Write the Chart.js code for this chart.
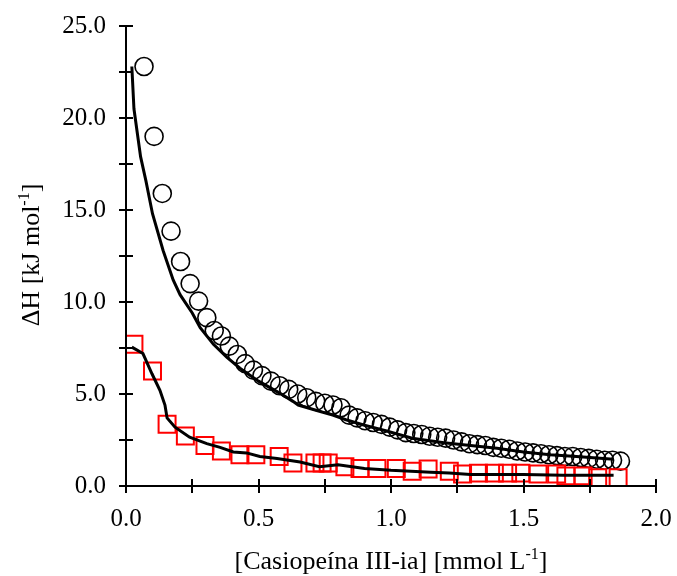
<!DOCTYPE html>
<html>
<head>
<meta charset="utf-8">
<script src="https://cdn.jsdelivr.net/npm/chart.js@4/dist/chart.umd.min.js"></script>
<style>
  html, body { margin: 0; padding: 0; background: #fff; }
  #wrap { width: 677px; height: 576px; position: relative; }
</style>
</head>
<body>
<div id="wrap"><canvas id="myChart"></canvas></div>
<script>
// circles (experimental, upper set)
const circleX = [0.068, 0.106, 0.137, 0.170, 0.206, 0.242, 0.274, 0.305, 0.333, 0.360,
    0.390, 0.420, 0.450, 0.481, 0.513, 0.547, 0.580, 0.614, 0.648, 0.682,
    0.716, 0.750, 0.781, 0.811, 0.842, 0.872, 0.902, 0.933, 0.964, 0.995,
    1.025, 1.056, 1.086, 1.116, 1.146, 1.176, 1.206, 1.236, 1.266, 1.296,
    1.326, 1.356, 1.386, 1.416, 1.446, 1.476, 1.506, 1.536, 1.566, 1.596,
    1.626, 1.656, 1.686, 1.716, 1.746, 1.776, 1.806, 1.836, 1.866];
const circleY = [22.8, 19.0, 15.9, 13.85, 12.2, 11.0, 10.05, 9.15, 8.45, 8.15,
    7.6, 7.15, 6.65, 6.3, 6.0, 5.7, 5.45, 5.25, 5.0, 4.8,
    4.6, 4.5, 4.4, 4.25, 3.85, 3.7, 3.55, 3.45, 3.35, 3.2,
    3.05, 2.9, 2.85, 2.8, 2.7, 2.65, 2.6, 2.5, 2.4, 2.3,
    2.25, 2.2, 2.1, 2.05, 2.0, 1.9, 1.85, 1.8, 1.75, 1.7,
    1.65, 1.6, 1.6, 1.55, 1.5, 1.45, 1.4, 1.4, 1.35];

// squares (experimental, lower set)
const squareX = [0.03, 0.10, 0.155, 0.224, 0.298, 0.36, 0.43, 0.49, 0.578, 0.63,
    0.713, 0.74, 0.763, 0.826, 0.883, 0.947, 1.02, 1.08, 1.14, 1.22,
    1.27, 1.33, 1.39, 1.44, 1.49, 1.555, 1.625, 1.66, 1.725, 1.78, 1.857];
const squareY = [7.7, 6.25, 3.35, 2.72, 2.2, 1.9, 1.7, 1.7, 1.6, 1.25,
    1.25, 1.25, 1.25, 1.05, 0.95, 0.95, 0.95, 0.8, 0.92, 0.8,
    0.65, 0.7, 0.7, 0.7, 0.7, 0.65, 0.65, 0.55, 0.55, 0.45, 0.45];

// fitted curves
const fitTopX = [0.022, 0.03, 0.055, 0.075, 0.10, 0.14, 0.178, 0.204, 0.25, 0.28,
    0.33, 0.38, 0.43, 0.50, 0.58, 0.63, 0.65, 0.72, 0.78, 0.83,
    0.90, 0.98, 1.08, 1.20, 1.30, 1.40, 1.50, 1.60, 1.70, 1.84];
const fitTopY = [22.8, 20.5, 17.9, 16.6, 14.8, 12.8, 11.2, 10.4, 9.4, 8.6,
    7.7, 7.0, 6.4, 5.7, 5.05, 4.6, 4.4, 4.1, 3.85, 3.6,
    3.3, 3.0, 2.6, 2.35, 2.2, 2.05, 1.85, 1.7, 1.6, 1.45];

const fitLowX = [0.022, 0.064, 0.098, 0.128, 0.147, 0.155, 0.185, 0.24, 0.305, 0.355,
    0.405, 0.455, 0.505, 0.57, 0.657, 0.73, 0.80, 0.90, 1.00, 1.15,
    1.22, 1.30, 1.50, 1.65, 1.84];
const fitLowY = [7.55, 7.2, 6.1, 5.2, 4.4, 3.7, 3.2, 2.65, 2.3, 2.1,
    1.85, 1.8, 1.6, 1.5, 1.3, 1.05, 1.15, 0.95, 0.85, 0.75,
    0.7, 0.62, 0.62, 0.58, 0.58];

const xTickLabels = ['0.0', '0.5', '1.0', '1.5', '2.0'];
const yTickLabels = ['0.0', '5.0', '10.0', '15.0', '20.0', '25.0'];

const toPts = (xs, ys) => xs.map((v, i) => ({x: v, y: ys[i]}));
const serif = '"Liberation Serif", "Times New Roman", serif';

// crossing tick marks, axis lines and titles
const axisPlugin = {
    id: 'axisDeco',
    afterDraw(chart) {
        const ctx = chart.ctx;
        const a = chart.chartArea;
        const xs = chart.scales.x, ys = chart.scales.y;
        ctx.save();
        ctx.strokeStyle = '#000';
        ctx.lineWidth = 2;
        ctx.beginPath();
        ctx.moveTo(a.left, a.top); ctx.lineTo(a.left, a.bottom); ctx.lineTo(a.right, a.bottom);
        for (let v = 0; v <= 2.0001; v += 0.25) {
            const px = Math.round(xs.getPixelForValue(v));
            ctx.moveTo(px, a.bottom - 7); ctx.lineTo(px, a.bottom + 7);
        }
        for (let v = 0; v <= 25.0001; v += 2.5) {
            const py = Math.round(ys.getPixelForValue(v));
            ctx.moveTo(a.left - 7, py); ctx.lineTo(a.left + 7, py);
        }
        ctx.stroke();

        ctx.fillStyle = '#000';
        ctx.textBaseline = 'alphabetic';
        const big = '26px ' + serif, small = '16px ' + serif;
        // x title
        const parts = [['[Casiopeína III-ia] [mmol L', big, 0], ['-1', small, -10], [']', big, 0]];
        let w = 0;
        parts.forEach(p => { ctx.font = p[1]; w += ctx.measureText(p[0]).width; });
        let cx = (a.left + a.right) / 2 - w / 2;
        parts.forEach(p => {
            ctx.font = p[1];
            ctx.textAlign = 'left';
            ctx.fillText(p[0], cx, 569 + p[2]);
            cx += ctx.measureText(p[0]).width;
        });
        // y title
        const yparts = [['ΔH [kJ mol', big, 0], ['-1', small, -10], [']', big, 0]];
        w = 0;
        yparts.forEach(p => { ctx.font = p[1]; w += ctx.measureText(p[0]).width; });
        ctx.translate(39, 255);
        ctx.rotate(-Math.PI / 2);
        cx = -w / 2;
        yparts.forEach(p => {
            ctx.font = p[1];
            ctx.textAlign = 'left';
            ctx.fillText(p[0], cx, p[2]);
            cx += ctx.measureText(p[0]).width;
        });
        ctx.restore();
    }
};

new Chart(document.getElementById('myChart'), {
    type: 'scatter',
    data: {
        datasets: [{
            label: 'circles',
            data: toPts(circleX, circleY),
            pointStyle: 'circle',
            pointRadius: 9,
            pointBorderWidth: 1.6,
            pointBorderColor: '#000',
            pointBackgroundColor: 'rgba(0,0,0,0)',
            showLine: false,
            order: 3
        }, {
            label: 'squares',
            data: toPts(squareX, squareY),
            pointStyle: 'rect',
            pointRadius: 12,
            pointBorderWidth: 2,
            pointBorderColor: '#ff0000',
            pointBackgroundColor: 'rgba(0,0,0,0)',
            showLine: false,
            order: 2
        }, {
            label: 'fit1',
            data: toPts(fitTopX, fitTopY),
            showLine: true,
            borderColor: '#000',
            borderWidth: 3,
            pointRadius: 0,
            tension: 0,
            order: 1
        }, {
            label: 'fit2',
            data: toPts(fitLowX, fitLowY),
            showLine: true,
            borderColor: '#000',
            borderWidth: 3,
            pointRadius: 0,
            tension: 0,
            order: 0
        }]
    },
    options: {
        responsive: true,
        maintainAspectRatio: false,
        animation: false,
        layout: { padding: { left: 0, right: 21, top: 26, bottom: 0 } },
        plugins: { legend: { display: false }, tooltip: { enabled: false } },
        scales: {
            x: {
                type: 'linear',
                min: 0, max: 2,
                grid: { display: false },
                border: { display: false },
                afterFit: s => { s.height = 90; s.paddingLeft = 0; s.paddingRight = 0; },
                ticks: {
                    stepSize: 0.5,
                    padding: 10,
                    color: '#000',
                    font: { family: serif, size: 25 },
                    maxRotation: 0,
                    callback: (v) => xTickLabels[Math.round(v / 0.5)] || ''
                }
            },
            y: {
                type: 'linear',
                min: 0, max: 25,
                grid: { display: false },
                border: { display: false },
                afterFit: s => { s.width = 126; s.paddingTop = 0; s.paddingBottom = 0; },
                ticks: {
                    stepSize: 5,
                    padding: 12,
                    color: '#000',
                    font: { family: serif, size: 25 },
                    callback: (v) => yTickLabels[Math.round(v / 5)] || ''
                }
            }
        }
    },
    plugins: [axisPlugin]
});
</script>
</body>
</html>
